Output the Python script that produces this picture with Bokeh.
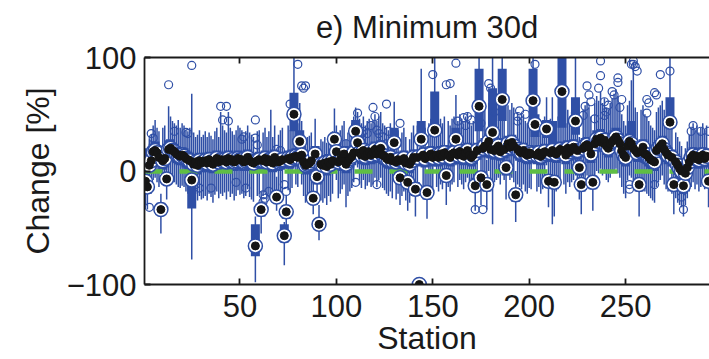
from bokeh.plotting import figure
from bokeh.models import (Range1d, FixedTicker, LinearAxis, Title, ColumnDataSource,
                          CustomLabelingPolicy)
from bokeh.embed import file_html
from bokeh.resources import INLINE

# ---------------- data ----------------
stations = list(range(1, 294))

median = [
    -9, -14, 5, 9, 17, 18, 16, 12, -34, 9,
    11, -7, 19, 20, 18, 17, 15, 14, 13, 14,
    13, 11, 10, 9, -8, 6, 8, 5, 9, 7,
    8, 9, 7, 10, 8, 6, 9, 11, 8, 10,
    9, 10, 8, 11, 9, 10, 8, 9, 11, 10,
    10, 8, 9, 12, 9, 8, 7, -66, 9, 10,
    -34, 9, 11, 8, 10, 9, 7, 12, -23, 8,
    9, 10, -57, -36, 11, 10, 12, 50, 13, 12,
    26, 14, 8, 5, 6, 7, 9, -24, 15, -5,
    -47, 6, 5, 7, 4, 8, 6, 9, 28, 17,
    8, 10, 12, 15, 6, 9, 11, 13, 16, 35,
    25, 16, 14, 18, 13, 15, 17, 14, 16, 19,
    15, 18, 20, 14, 13, 11, 10, 12, 9, 25,
    8, 10, -6, 9, 11, 7, -10, 6, 9, 12,
    -16, 12, -100, 28, 14, 11, -19, 13, 15, 12,
    36, 14, 12, 15, 13, 16, -4, 14, 12, 15,
    16, 28, 14, 17, 15, 13, 16, 18, 14, 12,
    14, -13, 18, 57, -6, 20, 22, -12, 26, 19,
    34, 18, 20, 22, 17, 63, 19, 3, 24, 21,
    25, 22, -21, 19, 17, 16, 18, 15, 14, 16,
    15, 62, 41, 14, 16, 13, 15, 17, 37, -9,
    16, 18, -10, 15, 17, 19, 70, 18, 14, 20,
    17, 19, 21, 44, 18, 3, -12, 20, 22, 23,
    21, 15, -10, 24, 28, 26, 29, 25, 27, 22,
    20, 24, 26, 28, 30, 27, 24, 18, 14, 12,
    22, 26, 24, 20, 18, 16, -12, 17, 21, 15,
    14, 12, 10, 9, 8, 18, 20, 22, 24, 19,
    16, 14, 43, 12, -12, 8, 5, 2, 0, -13,
    -2, 3, 8, 12, 14, 11, 13, 10, 12, 14, 11, 13, -9,
]

box_low = [
    -15, -20, -2, 2, 9, 10, 8, 4, -38, 1,
    3, -12, 11, 12, 10, 9, 7, 6, 5, 6,
    5, 3, 2, 1, -33, -2, 0, -3, 1, -1,
    0, 1, -1, 2, 0, -2, 1, 3, 0, 2,
    1, 2, 0, 3, 1, 2, 0, 1, 3, 2,
    2, 0, 1, 4, 1, 0, -1, -75, 1, 2,
    -40, 1, 3, 0, 2, 1, -1, 4, -28, 0,
    1, 2, -63, -42, 3, 2, 4, 35, 5, 4,
    17, 6, 0, -3, -2, -1, 1, -28, 7, -12,
    -52, -2, -3, -1, -4, 0, -2, 1, 22, 9,
    0, 2, 4, 7, -2, 1, 3, 5, 8, 25,
    17, 8, 6, 10, 5, 7, 9, 6, 8, 11,
    7, 10, 12, 6, 5, 3, 2, 4, 1, 24,
    0, 2, -12, 1, 3, -1, -16, -2, 1, 4,
    -22, 4, -100, 22, 6, 3, -25, 5, 7, 4,
    30, 6, 4, 7, 5, 8, -10, 6, 4, 7,
    8, 24, 6, 9, 7, 5, 8, 10, 6, 4,
    6, -18, 10, 35, -12, 12, 14, -18, 18, 11,
    26, 10, 12, 14, 9, 44, 11, -4, 16, 13,
    17, 14, -27, 11, 9, 8, 10, 7, 6, 8,
    7, 38, 30, 6, 8, 5, 7, 9, 29, -15,
    8, 12, -16, 7, 9, 11, 38, 10, 6, 12,
    9, 11, 13, 32, 10, -4, -18, 12, 14, 15,
    13, 7, -16, 16, 20, 18, 21, 17, 19, 14,
    12, 16, 18, 20, 22, 19, 16, 10, 6, 4,
    14, 18, 16, 12, 10, 8, -18, 9, 13, 7,
    6, 4, 2, 1, 0, 10, 12, 14, 16, 11,
    8, 6, 38, 4, -18, 0, -3, -6, -8, -20,
    -10, -5, 0, 4, 6, 3, 5, 2, 4, 6, 3, 5, -15,
]

box_high = [
    -3, -8, 12, 16, 24, 26, 23, 19, -28, 16,
    18, -4, 27, 28, 25, 24, 22, 21, 20, 21,
    20, 18, 17, 16, -4, 13, 15, 12, 16, 14,
    15, 16, 14, 17, 15, 13, 16, 18, 15, 17,
    16, 17, 15, 18, 16, 17, 15, 16, 18, 17,
    17, 15, 16, 19, 16, 15, 14, -47, 16, 17,
    -28, 16, 18, 15, 17, 16, 14, 19, -18, 15,
    16, 17, -47, -30, 18, 17, 19, 69, 20, 19,
    36, 21, 15, 12, 13, 14, 16, -18, 22, 2,
    -42, 13, 12, 14, 11, 15, 13, 16, 34, 24,
    15, 17, 19, 22, 13, 16, 18, 20, 23, 45,
    32, 23, 21, 25, 20, 22, 24, 21, 23, 26,
    22, 25, 27, 21, 20, 18, 17, 19, 16, 38,
    15, 17, 0, 16, 18, 14, -4, 13, 16, 19,
    -10, 19, -98, 44, 21, 18, -13, 20, 22, 19,
    70, 21, 19, 22, 20, 23, 2, 21, 19, 22,
    23, 38, 21, 24, 22, 20, 23, 25, 21, 19,
    21, -6, 25, 90, 0, 27, 29, -6, 33, 26,
    73, 25, 27, 29, 24, 90, 26, 10, 31, 28,
    32, 29, -15, 26, 24, 23, 25, 22, 21, 23,
    22, 90, 50, 21, 23, 20, 22, 24, 45, -3,
    23, 44, -4, 22, 24, 26, 105, 25, 21, 27,
    24, 26, 28, 65, 25, 10, -6, 27, 29, 30,
    28, 22, -4, 31, 36, 33, 37, 32, 34, 29,
    27, 31, 33, 36, 38, 34, 31, 25, 21, 19,
    29, 33, 44, 27, 25, 23, -6, 24, 28, 22,
    21, 19, 17, 16, 15, 25, 27, 29, 31, 26,
    23, 21, 65, 19, -6, 15, 12, 9, 7, -7,
    5, 10, 15, 19, 21, 18, 20, 17, 19, 21, 18, 20, -3,
]

whisker_low = [
    -30, -34, -18, -14, -8, -6, -10, -14, -55, -12,
    -10, -25, -5, -4, -8, -10, -12, -14, -15, -13,
    -14, -18, -20, -22, -78, -24, -20, -26, -22, -25,
    -24, -22, -26, -20, -23, -28, -21, -18, -24, -20,
    -22, -19, -25, -18, -23, -20, -26, -22, -17, -21,
    -20, -24, -22, -16, -23, -25, -27, -98, -22, -20,
    -55, -22, -18, -25, -21, -23, -27, -17, -35, -24,
    -22, -20, -83, -52, -17, -19, -15, 10, -12, -14,
    2, -12, -22, -28, -26, -24, -20, -38, -10, -30,
    -61, -26, -28, -24, -30, -22, -27, -20, 8, -8,
    -24, -20, -16, -12, -32, -22, -18, -15, -10, 12,
    3, -12, -15, -8, -16, -13, -10, -14, -12, -6,
    -14, -8, -6, -15, -17, -20, -22, -18, -24, 4,
    -25, -20, -30, -22, -18, -26, -35, -28, -22, -18,
    -40, -18, -100, 5, -15, -20, -42, -16, -14, -18,
    10, -14, -18, -12, -16, -10, -30, -14, -18, -12,
    -10, 5, -14, -8, -12, -16, -10, -6, -14, -18,
    -14, -35, -8, 10, -30, -6, -4, -34, 0, -10,
    -47, -10, -8, -6, -12, 20, -8, -25, -4, -8,
    -6, -10, -45, -12, -14, -16, -12, -18, -20, -15,
    -16, 12, 8, -18, -14, -20, -16, -12, 5, -32,
    -15, -47, -40, -18, -14, -10, 10, -12, -20, -10,
    -14, -10, -8, 8, -12, -25, -38, -10, -6, -4,
    -8, -16, -35, -4, 0, -2, 2, -4, -2, -8,
    -10, -6, -2, 0, 2, -2, -6, -14, -20, -24,
    -8, -4, -6, -12, -16, -18, -40, -14, -8, -18,
    -20, -22, -24, -26, -28, -14, -10, -8, -4, -12,
    -16, -18, 10, -20, -38, -24, -28, -30, -32, -40,
    -30, -24, -18, -14, -10, -16, -12, -18, -14, -10, -16, -12, -32,
]

whisker_high = [
    20, 8, 28, 32, 40, 45, 38, 35, -20, 38,
    40, 5, 57, 48, 44, 42, 40, 45, 38, 42,
    40, 36, 35, 38, 68, 34, 30, 32, 36, 30,
    32, 35, 30, 34, 31, 28, 35, 38, 30, 52,
    40, 36, 34, 52, 38, 35, 32, 36, 40, 38,
    36, 32, 35, 40, 34, 32, 30, -40, 35, 36,
    -18, 34, 38, 30, 35, 54, 30, 40, -5, 32,
    36, 38, -45, -22, 40, 36, 42, 105, 45, 42,
    60, 44, 32, 28, 30, 31, 34, -8, 46, 18,
    -30, 28, 26, 30, 25, 32, 28, 35, 55, 40,
    32, 36, 40, 44, 28, 34, 38, 42, 48, 56,
    52, 46, 42, 48, 40, 44, 46, 42, 45, 50,
    44, 48, 52, 42, 40, 38, 36, 42, 34, 61,
    32, 36, 10, 34, 38, 30, 5, 28, 34, 40,
    5, 40, -95, 90, 44, 38, 0, 42, 46, 40,
    100, 44, 40, 46, 42, 48, 20, 44, 40, 46,
    48, 67, 44, 50, 46, 42, 48, 52, 44, 40,
    44, 10, 50, 105, 15, 52, 56, 10, 60, 50,
    105, 50, 54, 58, 48, 105, 52, 30, 58, 54,
    60, 56, 0, 52, 48, 46, 50, 44, 42, 46,
    44, 100, 70, 42, 46, 40, 44, 48, 65, 15,
    46, 65, 18, 44, 48, 52, 105, 50, 42, 54,
    48, 52, 56, 105, 50, 30, 10, 54, 58, 60,
    56, 48, 12, 60, 66, 62, 70, 60, 64, 56,
    54, 60, 64, 68, 72, 66, 60, 50, 44, 40,
    58, 62, 80, 96, 56, 52, 10, 54, 58, 50,
    48, 44, 40, 38, 36, 52, 56, 58, 62, 54,
    48, 46, 100, 40, 15, 34, 30, 26, 22, 8,
    20, 26, 32, 38, 42, 36, 40, 34, 38, 42, 36, 40, 15,
]

outlier_station = [
    3, 4, 5, 13, 16, 22, 23, 25, 27, 29, 35, 40, 41, 43, 44, 48, 51, 52,
    58, 58, 59, 53, 62, 63, 62, 65, 69, 71, 76, 80, 82, 83, 73, 74, 84,
    100, 105, 111, 112, 113, 114, 116, 118, 119, 120, 121, 122, 121, 110,
    124, 127, 126, 133, 139, 150, 157, 159, 162, 163, 166, 168, 167,
    170, 175, 179, 180, 182, 203, 172, 176, 194, 194, 195, 198,
    237, 237, 246, 246, 236, 243, 244, 230, 231, 232, 239, 248, 228, 239,
    234, 229, 241, 240, 247, 252, 252, 254, 253, 255, 254, 256,
    268, 273, 265, 266, 261, 262, 261, 285, 289, 293, 284, 265, 279, 280,
]
outlier_value = [
    -32, 33, 29, 76, 35, 34, 33, 93, -12, -15, -15, 57, 45, 57, 44, -10, 28, 30,
    45, 29, 23, -15, -21, -24, -27, -18, 19, 18, 59, 94, 75, 73, -12, -18, 75,
    29, 24, 51, 28, 30, 35, 33, 40, 56, 48, 36, 33, -12, -10,
    30, 35, 59, 42, -13, 85, 76, 77, 95, 44, 47, 48, 40,
    45, 42, 77, 73, 52, 94, -34, -34, 48, 44, 53, 50,
    97, 84, 82, 78, 73, 70, 67, 75, 67, 61, 61, 63, 49, 49,
    46, 57, 58, 52, 56, -12, -16, 94, 94, 92, 97, 88,
    85, 88, 69, 67, 63, 60, 51, 40, 35, 35, 35, -12, -23, -34,
]

x_ticks = [50, 100, 150, 200, 250]
y_ticks = [-100, 0, 100]
zero_level = [0]

assert len(median) == len(stations) == len(box_low) == len(box_high) == len(whisker_low) == len(whisker_high)
assert len(outlier_station) == len(outlier_value)

# ---------------- styling ----------------
BLUE = "#2f4fa6"
GREEN = "#5fbe44"
FONT = "Liberation Sans"
TXT = "#1a1a1a"

src = ColumnDataSource(dict(st=stations, med=median, q1=box_low, q3=box_high,
                            wlo=whisker_low, whi=whisker_high))
osrc = ColumnDataSource(dict(x=outlier_station, y=outlier_value))

p = figure(width=709, height=359, output_backend="svg", toolbar_location=None,
           x_range=Range1d(0.5, 293.5), y_range=Range1d(-100, 100),
           min_border_left=144, min_border_right=0, min_border_top=57,
           min_border_bottom=75, background_fill_color="white",
           border_fill_color="white")
p.outline_line_color = None
p.grid.visible = False

p.title = Title(text="e) Minimum 30d", align="center", text_font=FONT,
                text_font_size="31px", text_font_style="normal",
                text_color=TXT, standoff=4)

# whiskers
p.segment(x0="st", y0="wlo", x1="st", y1="whi", source=src,
          line_color=BLUE, line_width=1.5)
# boxes (compact style: thick bars)
p.segment(x0="st", y0="q1", x1="st", y1="q3", source=src,
          line_color=BLUE, line_width=9, line_cap="butt")
# outliers
p.scatter(x="x", y="y", source=osrc, marker="circle", size=8,
          fill_color=None, line_color=BLUE, line_width=1.2)
# zero reference line
p.hspan(y=zero_level, line_color=GREEN, line_width=4.5, line_dash="18 17")
# medians: white ring + black dot
p.scatter(x="st", y="med", source=src, marker="circle", size=14,
          fill_color="white", line_color=BLUE, line_width=1.5)
p.scatter(x="st", y="med", source=src, marker="circle", size=8,
          fill_color="#151515", line_color="#151515", line_width=1)

# axes
for ax in (p.xaxis[0], p.yaxis[0]):
    ax.axis_line_width = 1.8
    ax.axis_line_color = TXT
    ax.major_tick_line_width = 1.8
    ax.major_tick_line_color = TXT
    ax.major_tick_in = 6
    ax.major_tick_out = 0
    ax.minor_tick_line_color = None
    ax.major_label_text_font = FONT
    ax.major_label_text_font_size = "31px"
    ax.major_label_text_color = TXT
    ax.axis_label_text_font = FONT
    ax.axis_label_text_font_size = "32px"
    ax.axis_label_text_font_style = "normal"
    ax.axis_label_text_color = TXT

p.xaxis[0].ticker = FixedTicker(ticks=x_ticks)
p.yaxis[0].ticker = FixedTicker(ticks=y_ticks)
p.yaxis[0].major_label_overrides = {-100: "\u2212100"}
p.xaxis[0].axis_label = "Station"
p.yaxis[0].axis_label = "Change [%]"
p.xaxis[0].major_label_standoff = 10
p.xaxis[0].axis_label_standoff = 0
p.xaxis[0].major_label_text_line_height = 1.0
p.xaxis[0].axis_label_text_line_height = 1.0
p.yaxis[0].major_label_standoff = 8
p.yaxis[0].axis_label_standoff = 8

# top frame line with inward ticks, no labels drawn
no_labels = CustomLabelingPolicy(
    code="const a = Array.from(indices); for (const i of a) indices.unset(i); return indices")
top = LinearAxis(ticker=FixedTicker(ticks=x_ticks), axis_line_width=1.8,
                 axis_line_color=TXT, major_tick_line_width=1.8,
                 major_tick_line_color=TXT, major_tick_in=6, major_tick_out=0,
                 minor_tick_line_color=None, major_label_standoff=0,
                 major_label_policy=no_labels)
p.add_layout(top, "above")

open("out.html", "w").write(file_html(p, INLINE))
